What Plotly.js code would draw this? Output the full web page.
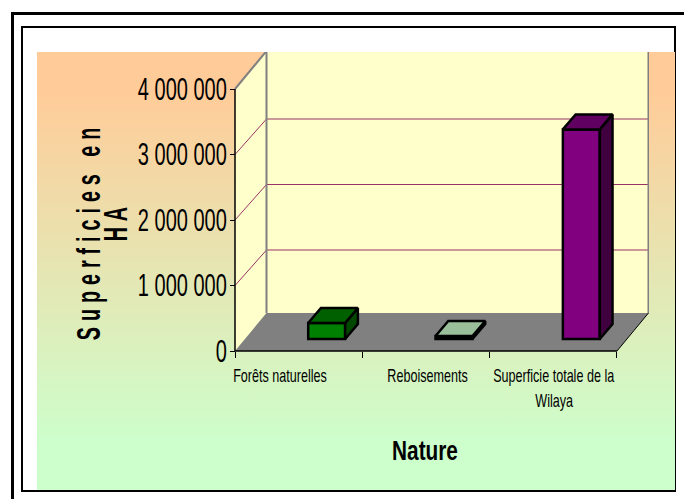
<!DOCTYPE html>
<html>
<head>
<meta charset="utf-8">
<script src="https://cdn.plot.ly/plotly-3.0.1.min.js"></script>
<style>
html,body{margin:0;padding:0;width:684px;height:499px;overflow:hidden;background:#fff}
#panel{position:absolute;left:37px;top:52px;width:638px;height:438px;
  background:linear-gradient(to bottom,#FFCC99 0,#FFCC99 40px,#CCFFCC 395px,#CCFFCC 100%)}
#outer{position:absolute;left:11px;top:12px;width:700px;height:520px;border:3px solid #000;box-sizing:border-box}
#inner{position:absolute;left:21px;top:26px;width:655px;height:466px;border:2px solid #000;box-sizing:border-box}
#chart{position:absolute;left:0;top:0;width:684px;height:499px}
.ytitle{letter-spacing:10.3px}
</style>
</head>
<body>
<div id="outer"></div>
<div id="inner"></div>
<div id="panel"></div>
<div id="chart"></div>
<script>
// Data
const categories = ['Forêts naturelles', 'Reboisements', 'Superficie totale de la<br>Wilaya'];
const superficies = [245000, 45000, 3200000];
const frontColors = ['#008000', '#000000', '#800080'];
const topColors   = ['#006000', '#9ABD9A', '#600060'];
const sideColors  = ['#004800', '#000000', '#400040'];
const tickValues = [0, 1000000, 2000000, 3000000, 4000000];
const tickLabels = ['0', '1 000 000', '2 000 000', '3 000 000', '4 000 000'];

// 3D-look geometry, in axis units
const wallDX = 0.2474, wallDY = 580000, gridDY = 542000;
const barDX = 0.1, barDY = 229000;
const barOffset = 0.22, barWidth = 0.29, barBase = 183000;
const nCat = categories.length, yMax = tickValues[tickValues.length - 1];

function poly(pts){ return 'M' + pts.map(p => p[0] + ' ' + p[1]).join(' L') + ' Z'; }
function shp(path, fill, lc, lw){
  return {type:'path', xref:'x', yref:'y', layer:'below', path:path,
          fillcolor:fill, line:{color:lc || 'rgba(0,0,0,0)', width:lw || 0}};
}
function seg(x0,y0,x1,y1,c,w){
  return {type:'line', xref:'x', yref:'y', layer:'below', x0,y0,x1,y1, line:{color:c, width:w}};
}
const shapes = [
  shp(poly([[0,0],[wallDX,wallDY],[wallDX,yMax+wallDY],[0,yMax]]), '#FFFFCC'),
  shp(poly([[wallDX,wallDY],[nCat+wallDX,wallDY],[nCat+wallDX,yMax+wallDY],[wallDX,yMax+wallDY]]), '#FFFFCC'),
  shp(poly([[0,0],[nCat,0],[nCat+wallDX,wallDY],[wallDX,wallDY]]), '#808080')
];
tickValues.slice(1,-1).forEach(v => {
  shapes.push(seg(0,v,wallDX,v+gridDY,'#993366',1));
  shapes.push(seg(wallDX,v+gridDY,nCat+wallDX,v+gridDY,'#993366',1));
});
shapes.push(seg(0,yMax,wallDX,yMax+wallDY,'#808080',2));
shapes.push(seg(wallDX,yMax+wallDY,nCat+wallDX,yMax+wallDY,'#808080',2));
shapes.push(seg(wallDX,wallDY,wallDX,yMax+wallDY,'#808080',2));
shapes.push(seg(nCat+wallDX,wallDY,nCat+wallDX,yMax+wallDY,'#808080',2));
shapes.push(seg(nCat,0,nCat+wallDX,wallDY,'#000',1));
shapes.push(seg(0,0,0,yMax,'#000',1.5));
shapes.push(seg(0,0,nCat,0,'#000',1.5));

const xPos = categories.map((c,i) => i + 0.5 + barOffset);
const traces = [{
  type:'bar', x:xPos, y:superficies, base:barBase, width:barWidth,
  marker:{color:frontColors, line:{color:'#000', width:2.5}}, hoverinfo:'skip'
}];
superficies.forEach((v,i) => {
  const l = xPos[i]-barWidth/2, r = xPos[i]+barWidth/2, b = barBase, t = barBase+v;
  traces.push({type:'scatter', mode:'lines', fill:'toself', fillcolor:sideColors[i],
    x:[r,r+barDX,r+barDX,r,r], y:[b,b+barDY,t+barDY,t,b],
    line:{color:'#000',width:2.5}, hoverinfo:'skip'});
  traces.push({type:'scatter', mode:'lines', fill:'toself', fillcolor:topColors[i],
    x:[l,l+barDX,r+barDX,r,l], y:[t,t+barDY,t+barDY,t,t],
    line:{color:'#000',width:2.5}, hoverinfo:'skip'});
});

const annotations = [];
const labelShift = [-19, 1.5, 1];
categories.forEach((c,i) => {
  c.split('<br>').forEach((line,j) => {
    annotations.push({xref:'x', yref:'y', x:i+0.5, y:0, text:line, showarrow:false,
      xanchor:'center', yanchor:'middle', xshift:labelShift[i], yshift:-25-25*j,
      font:{family:'"Liberation Sans"', size:18, color:'#000'}});
  });
});

const layout = {
  width:684, height:499, showlegend:false,
  paper_bgcolor:'rgba(0,0,0,0)', plot_bgcolor:'rgba(0,0,0,0)',
  margin:{l:201, r:35, t:52, b:89, pad:0},
  xaxis:{range:[-0.267,3.2514], anchor:'free', position:0.1648, tickmode:'array',
    tickvals:[0,1,2,3], ticktext:['','','',''], ticks:'outside', ticklen:6, tickwidth:1, tickcolor:'#000',
    showgrid:false, zeroline:false, showline:false,
    title:{text:'<b>Nature</b>', standoff:81, font:{family:'"Liberation Sans"', size:27, color:'#000'}}},
  yaxis:{range:[-900800,4564900], anchor:'free', position:0.0759, tickmode:'array',
    tickvals:tickValues, ticktext:tickLabels, ticks:'outside', ticklen:5, tickwidth:1, tickcolor:'#000',
    ticklabelstandoff:-3, showgrid:false, zeroline:false, showline:false,
    tickfont:{family:'"Liberation Sans"', size:31, color:'#000'},
    title:{text:'<b>Superficies en<br>HA</b>', standoff:6, font:{family:'"Liberation Sans"', size:34, color:'#000'}}},
  shapes:shapes, annotations:annotations
};

// The reference uses horizontally squeezed type: narrow each real text element along its own baseline.
function squeeze(el, sx, anchor, moveX){
  const b = el.getBBox(), c = b.x + b.width*anchor, t = el.getAttribute('transform') || '';
  el.setAttribute('transform', 'translate(' + (moveX || 0) + ' 0) ' + t +
    ' translate(' + c + ' 0) scale(' + sx + ' 1) translate(' + (-c) + ' 0)');
}
Plotly.newPlot('chart', traces, layout, {displayModeBar:false, staticPlot:true}).then(() => {
  document.querySelectorAll('.ytick text').forEach(e => squeeze(e, 0.645, 1));
  document.querySelectorAll('.annotation text').forEach(e => squeeze(e, 0.70, 0.5));
  document.querySelectorAll('.xtitle').forEach(e => squeeze(e, 0.77, 0.5));
  document.querySelectorAll('.ytitle').forEach(e => {
    const lines = e.querySelectorAll('tspan.line');
    if (lines.length > 1) { lines[1].setAttribute('dy', '27px'); lines[1].setAttribute('dx', '17'); }
    squeeze(e, 0.58, 0.5, 69);
  });
});
</script>
</body>
</html>
